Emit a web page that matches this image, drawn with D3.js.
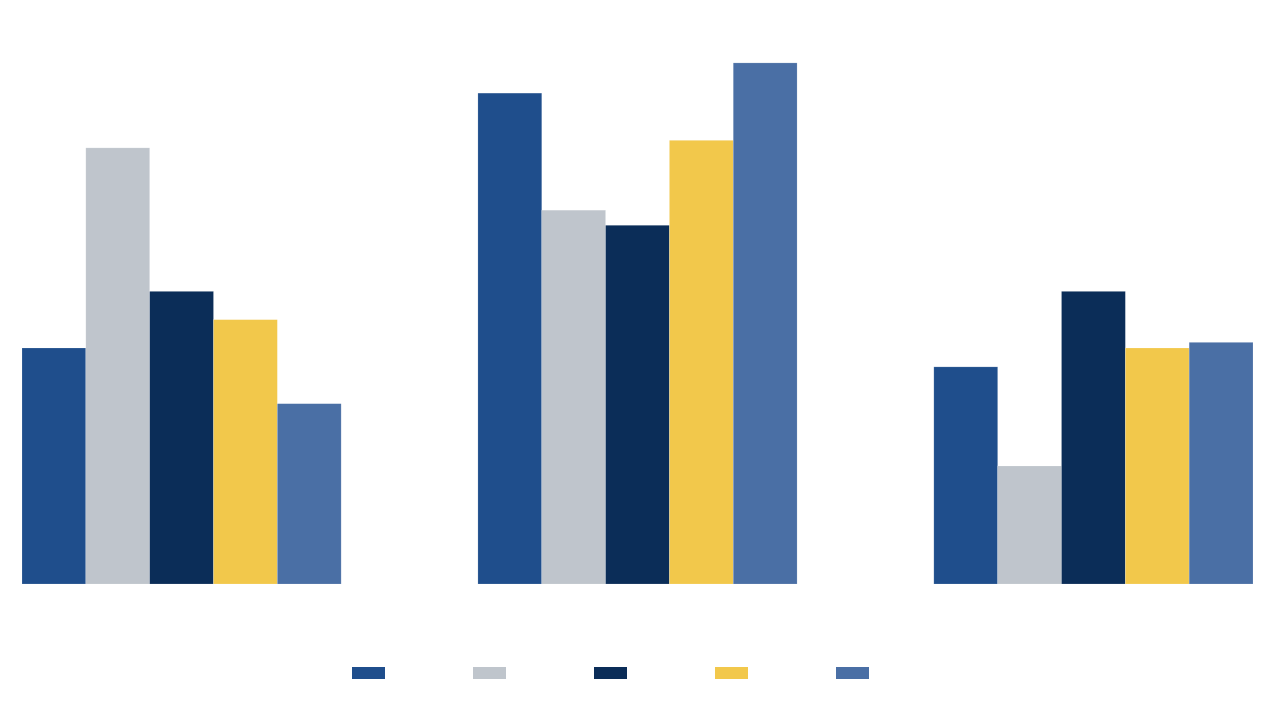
<!DOCTYPE html>
<html>
<head>
<meta charset="utf-8">
<script src="https://cdn.jsdelivr.net/npm/d3@7"></script>
<style>
  html, body { margin: 0; padding: 0; background: #fff; }
  svg { display: block; font-family: "Liberation Sans", Arial, sans-serif; }
</style>
</head>
<body>
<svg id="chart" width="1280" height="702"></svg>
<script>
var categories = ["Den har gått ner", "Den är oförändrad", "Den har gått upp"];
var years = ["2022", "2023", "2024", "2025", "2026"];
var colors = ["#1f4e8c", "#bfc5cc", "#0b2d58", "#f2c84b", "#4a6fa5"];
var v2022 = [25.0, 52.0, 23.0];
var v2023 = [46.2, 39.6, 12.5];
var v2024 = [31.0, 38.0, 31.0];
var v2025 = [28.0, 47.0, 25.0];
var v2026 = [19.1, 55.2, 25.6];
var series = [v2022, v2023, v2024, v2025, v2026];

var svg = d3.select("#chart");
var base = 584;

var x0 = d3.scaleBand().domain(categories).range([22, 1253]).paddingInner(0.3).paddingOuter(0);
var x1 = d3.scaleBand().domain(years).range([0, x0.bandwidth()]);
var y = d3.scaleLinear().domain([0, 60]).range([base, base - 9.44 * 60]);

var rows = [];
categories.forEach(function(c, i) {
    years.forEach(function(yr, j) {
        rows.push({ cat: c, year: yr, value: series[j][i], color: colors[j] });
    });
});

var g = svg.append("g");
g.selectAll("rect.bar").data(rows).enter().append("rect")
    .attr("class", "bar")
    .attr("x", function(d) { return x0(d.cat) + x1(d.year); })
    .attr("y", function(d) { return y(d.value); })
    .attr("width", x1.bandwidth())
    .attr("height", function(d) { return base - y(d.value); })
    .attr("fill", function(d) { return d.color; })
    .attr("stroke", "#ffffff")
    .attr("stroke-opacity", 0.25)
    .attr("stroke-width", 0.6);

g.selectAll("text.val").data(rows).enter().append("text")
    .attr("class", "val")
    .attr("x", function(d) { return x0(d.cat) + x1(d.year) + x1.bandwidth() / 2; })
    .attr("y", function(d) { return y(d.value) - 9; })
    .attr("text-anchor", "middle")
    .attr("font-size", 14)
    .attr("fill", "#ffffff")
    .text(function(d) { return d.value.toFixed(1) + "%"; });

// category axis
var axis = svg.append("g").attr("transform", "translate(0," + base + ")")
    .call(d3.axisBottom(x0).tickSize(0).tickPadding(14));
axis.select(".domain").attr("stroke", "#ffffff");
axis.selectAll("text").attr("fill", "#ffffff").attr("font-size", 16)
    .style("font-family", "Liberation Sans, Arial, sans-serif");

// legend
var leg = svg.append("g").attr("transform", "translate(352,667)");
var item = leg.selectAll("g").data(years).enter().append("g")
    .attr("transform", function(d, i) { return "translate(" + (i * 121) + ",0)"; });
item.append("rect").attr("width", 33).attr("height", 12)
    .attr("fill", function(d, i) { return colors[i]; });
item.append("text").attr("x", 41).attr("y", 6).attr("dy", ".35em")
    .attr("font-size", 14).attr("fill", "#ffffff")
    .text(function(d) { return d; });
</script>
</body>
</html>
